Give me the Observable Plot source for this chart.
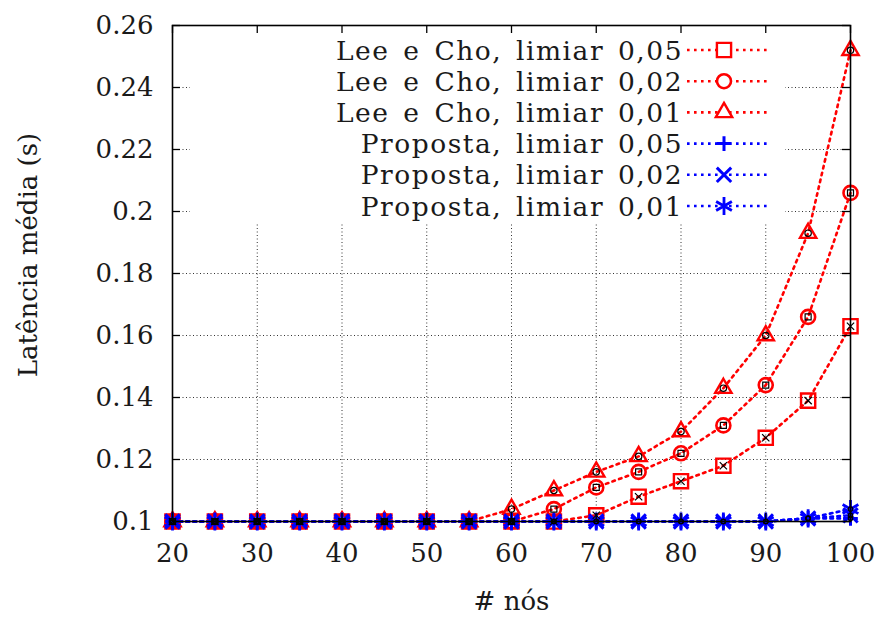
<!DOCTYPE html>
<html><head><meta charset="utf-8">
<script src="https://cdn.jsdelivr.net/npm/d3@7"></script>
<script src="https://cdn.jsdelivr.net/npm/@observablehq/plot@0.6"></script>
<style>body{margin:0;background:#fff}</style>
</head><body><div id="chart"></div>
<script>
// ---- data ----
const nodes   = [20,25,30,35,40,45,50,55,60,65,70,75,80,85,90,95,100];
const lee005  = [0.1,0.1,0.1,0.1,0.1,0.1,0.1,0.1,0.1,0.1,0.102,0.108,0.113,0.118,0.127,0.139,0.163];
const lee002  = [0.1,0.1,0.1,0.1,0.1,0.1,0.1,0.1,0.1,0.104,0.111,0.116,0.122,0.131,0.144,0.166,0.206];
const lee001  = [0.1,0.1,0.1,0.1,0.1,0.1,0.1,0.1,0.104,0.110,0.116,0.121,0.129,0.143,0.160,0.193,0.252];
const prop005 = [0.1,0.1,0.1,0.1,0.1,0.1,0.1,0.1,0.1,0.1,0.1,0.1,0.1,0.1,0.1,0.101,0.101];
const prop002 = [0.1,0.1,0.1,0.1,0.1,0.1,0.1,0.1,0.1,0.1,0.1,0.1,0.1,0.1,0.1,0.101,0.102];
const prop001 = [0.1,0.1,0.1,0.1,0.1,0.1,0.1,0.1,0.1,0.1,0.1,0.1,0.1,0.1,0.1,0.101,0.104];
const seriesNames = ["Lee e Cho, limiar 0,05","Lee e Cho, limiar 0,02","Lee e Cho, limiar 0,01",
                     "Proposta, limiar 0,05","Proposta, limiar 0,02","Proposta, limiar 0,01"];
const seriesValues = [lee005, lee002, lee001, prop005, prop002, prop001];
const xTicks = [20,30,40,50,60,70,80,90,100];
const yTicks = [0.1,0.12,0.14,0.16,0.18,0.2,0.22,0.24,0.26];
const xLabel = "# nós";
const yLabel = "Latência média (s)";

// ---- styles ----
const RED = "#ff0000", BLUE = "#0000ff";
const styles = [
  {color: RED,  symbol: "square",    r: 8.0, sw: 2.4, inner: "times",  ir: 3.4},
  {color: RED,  symbol: "circle",    r: 7.0, sw: 2.6, inner: "square", ir: 3.4},
  {color: RED,  symbol: "triangle2", r: 7.8, sw: 2.4, inner: "circle", ir: 3.2},
  {color: BLUE, symbol: "plus",      r: 4.8, sw: 3.0, inner: "circle", ir: 2.2},
  {color: BLUE, symbol: "times",     r: 6.6, sw: 3.0, inner: "circle", ir: 2.2},
  {color: BLUE, symbol: "asterisk",  r: 8.6, sw: 2.8, inner: "circle", ir: 2.2}
];
const W = 879, H = 617, mL = 172, mR = 29, mT = 25, mB = 96;
const innerW = W - mL - mR, innerH = H - mT - mB, tickLen = 8;
const serif = "DejaVu Serif";
const textColor = "#1a1a1a";

const rows = seriesNames.map((name, s) => nodes.map((x, i) => ({series: name, s, x, y: seriesValues[s][i]})));

// key (white box hides the grid, like gnuplot's key) and rotated y title
function keyAndTitle(index, scales, values, dims) {
  const g = d3.create("svg:g");
  g.append("rect")
    .attr("x", dims.marginLeft + 18).attr("y", dims.marginTop + 1)
    .attr("width", dims.width - dims.marginLeft - dims.marginRight - 18 - 65)
    .attr("height", 196).attr("fill", "white");
  const textRight = dims.marginLeft + 511, s1 = textRight + 4, s2 = textRight + 87, mx = textRight + 41;
  seriesNames.forEach((name, i) => {
    const y = dims.marginTop + 25 + i * 31.2;
    const st = styles[i];
    g.append("text").attr("x", textRight).attr("y", y).attr("dy", "0.36em")
      .attr("text-anchor", "end").attr("fill", textColor)
      .attr("font-family", serif).attr("font-size", 26.5)
      .attr("letter-spacing", "1.5px").attr("word-spacing", "4px")
      .text(name);
    g.append("line").attr("x1", s1).attr("x2", s2).attr("y1", y).attr("y2", y)
      .attr("stroke", st.color).attr("stroke-width", 2.6).attr("stroke-dasharray", "2.6,4.4");
    const sym = {square: d3.symbolSquare, circle: d3.symbolCircle, triangle2: d3.symbolTriangle2,
                 plus: d3.symbolPlus, times: d3.symbolTimes, asterisk: d3.symbolAsterisk}[st.symbol];
    g.append("path").attr("transform", `translate(${mx},${y})`)
      .attr("d", d3.symbol(sym, Math.PI * st.r * st.r)())
      .attr("fill", "white").attr("stroke", st.color).attr("stroke-width", st.sw);
  });
  g.append("text")
    .attr("transform", `translate(${dims.marginLeft - 144},${dims.marginTop + 230}) rotate(-90)`)
    .attr("text-anchor", "middle").attr("dy", "0.36em")
    .attr("font-family", serif).attr("font-size", 26).attr("fill", textColor)
    .text(yLabel);
  return g.node();
}

const marks = [
  Plot.ruleX(xTicks, {stroke: "#333", strokeWidth: 1, strokeDasharray: "1,2.5"}),
  Plot.ruleY(yTicks, {stroke: "#333", strokeWidth: 1, strokeDasharray: "1,2.5"}),
  keyAndTitle
];
rows.forEach((data, s) => {
  const st = styles[s];
  marks.push(Plot.line(data, {x: "x", y: "y", stroke: st.color, strokeWidth: 2.6, strokeDasharray: "2.6,4.4"}));
  marks.push(Plot.dot(data, {x: "x", y: "y", symbol: () => st.symbol, r: st.r, stroke: st.color, fill: "none", strokeWidth: st.sw}));
});
rows.forEach((data, s) => {
  const st = styles[s];
  marks.push(Plot.dot(data, {x: "x", y: "y", symbol: () => st.inner, r: st.ir, stroke: "black", fill: "none", strokeWidth: 1.2}));
});
marks.push(
  Plot.frame({stroke: "black", strokeWidth: 1.6}),
  Plot.tickX(xTicks, {x: d => d, insetTop: innerH - tickLen, stroke: "black", strokeWidth: 1.3}),
  Plot.tickX(xTicks, {x: d => d, insetBottom: innerH - tickLen, stroke: "black", strokeWidth: 1.3}),
  Plot.tickY(yTicks, {y: d => d, insetRight: innerW - tickLen, stroke: "black", strokeWidth: 1.3}),
  Plot.tickY(yTicks, {y: d => d, insetLeft: innerW - tickLen, stroke: "black", strokeWidth: 1.3}),
  Plot.text([xLabel], {text: d => d, frameAnchor: "bottom", dy: 80, lineAnchor: "middle",
    fontSize: 26, fill: textColor})
);

const chart = Plot.plot({
  width: W, height: H,
  marginLeft: mL, marginRight: mR, marginTop: mT, marginBottom: mB,
  style: {fontFamily: serif, fontSize: "26px", color: textColor, background: "white"},
  x: {domain: [20, 100], ticks: xTicks, tickSize: 0, tickPadding: 22, label: null},
  y: {domain: [0.1, 0.26], ticks: yTicks, tickSize: 0, tickPadding: 19, label: null,
      tickFormat: d => String(+d.toFixed(2))},
  symbol: {type: "identity"},
  marks
});
document.getElementById("chart").append(chart);
</script>
</body></html>
